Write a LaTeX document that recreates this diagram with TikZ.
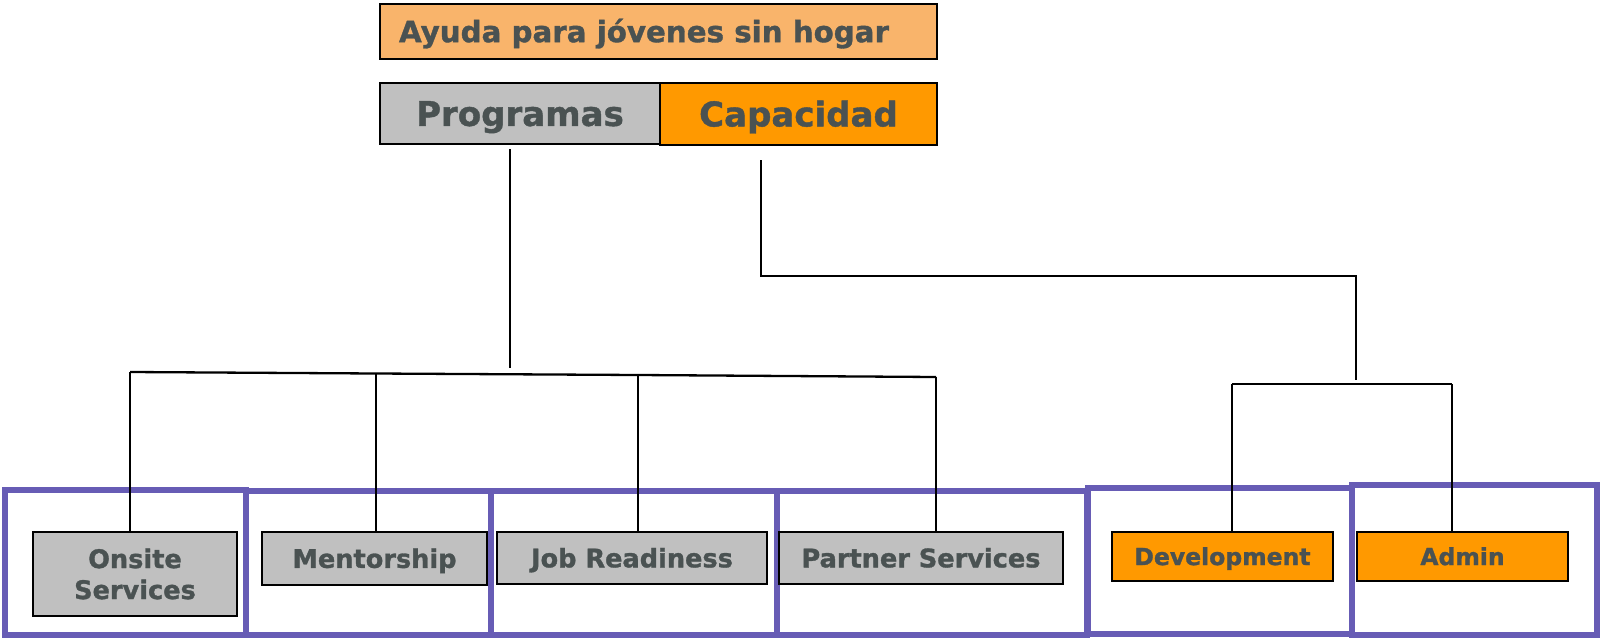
\documentclass[tikz,border=0pt]{standalone}
\usepackage{fontspec}
\setmainfont{DejaVu Sans}[BoldFeatures={FakeBold=1.2}]
\definecolor{txt}{RGB}{74,82,82}
\definecolor{lorange}{RGB}{249,180,107}
\definecolor{orng}{RGB}{255,153,0}
\definecolor{gry}{RGB}{192,192,192}
\definecolor{purp}{RGB}{103,92,181}
\begin{document}
\begin{tikzpicture}[x=1pt,y=-1pt,
  box/.style={draw=black,line width=2.4pt,inner sep=0pt,text=txt,font=\bfseries},
  gbox/.style={box,fill=gry,font=\bfseries\fontsize{25.6}{31}\selectfont},
  gcap/.style={text height=18.7pt,text depth=0pt},
  obox/.style={box,fill=orng,text height=17.1pt,text depth=0pt,font=\bfseries\fontsize{23.5}{28}\selectfont},
  bigbox/.style={box,text height=24.8pt,text depth=0pt,font=\bfseries\fontsize{34}{40}\selectfont},
  conn/.style={draw=black,line width=2.3pt},
  frame/.style={draw=purp,line width=5.5pt}]
\useasboundingbox (0,0) rectangle (1600,640);
% frames
\draw[frame] (5,490) rectangle (246,635);
\draw[frame] (246,491) rectangle (491,635);
\draw[frame] (491,491) rectangle (777,635);
\draw[frame] (777,491) rectangle (1087,635);
\draw[frame] (1088,488) rectangle (1352,634);
\draw[frame] (1352,485) rectangle (1597,635);
% top boxes
\node[box,fill=lorange,minimum width=557pt,minimum height=55pt,text height=21.3pt,text depth=0pt,
  font=\bfseries\fontsize{29.3}{34}\selectfont] (title) at (658.5,31.5) {Ayuda para jóvenes sin hogar\kern29pt};
\node[bigbox,fill=gry,minimum width=280pt,minimum height=61pt] (prog) at (520,113.5) {Programas};
\node[bigbox,fill=orng,minimum width=277pt,minimum height=62pt] (cap) at (798.5,114) {Capacidad};
% bottom boxes
\node[gbox,align=center,minimum width=204pt,minimum height=84pt] (onsite) at (135,574) {Onsite\\Services};
\node[gbox,gcap,minimum width=225pt,minimum height=53pt] (mentor) at (374.5,558.5) {Mentorship};
\node[gbox,gcap,minimum width=270pt,minimum height=52pt] (job) at (632,558) {Job Readiness};
\node[gbox,gcap,minimum width=284pt,minimum height=52pt] (partner) at (921,558) {Partner Services};
\node[obox,minimum width=221pt,minimum height=49pt] (dev) at (1222.5,556.5) {Development};
\node[obox,minimum width=211pt,minimum height=49pt] (admin) at (1462.5,556.5) {Admin};
% connector points
\coordinate (pa) at (510,149);
\coordinate (pb) at (510,368);
\coordinate (b1) at (130,372);
\coordinate (b2) at (376,373.5);
\coordinate (b3) at (638,375);
\coordinate (b4) at (936,377);
\coordinate (ca) at (761,160);
\coordinate (cb) at (761,276);
\coordinate (cc) at (1356,276);
\coordinate (cd) at (1356,380);
\coordinate (r1) at (1232,384);
\coordinate (r2) at (1452,384);
% connectors
\draw[conn] (pa) -- (pb);
\draw[conn] (b1) -- (b2) -- (b3) -- (b4);
\draw[conn] (b1) -- (b1 |- onsite.north);
\draw[conn] (b2) -- (b2 |- mentor.north);
\draw[conn] (b3) -- (b3 |- job.north);
\draw[conn] (b4) -- (b4 |- partner.north);
\draw[conn] (ca) -- (cb) -- (cc) -- (cd);
\draw[conn] (r1) -- (r2);
\draw[conn] (r1) -- (r1 |- dev.north);
\draw[conn] (r2) -- (r2 |- admin.north);
\end{tikzpicture}
\end{document}
